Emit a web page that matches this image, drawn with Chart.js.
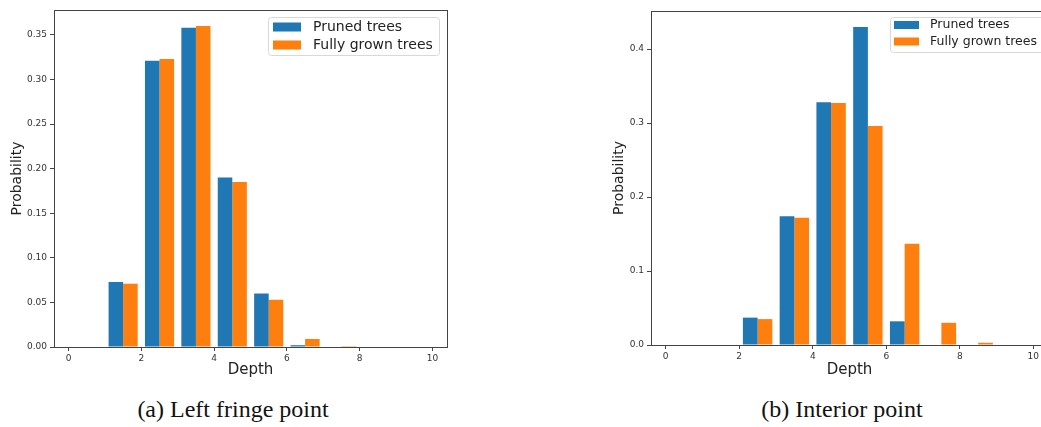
<!DOCTYPE html>
<html>
<head>
<meta charset="utf-8">
<script src="https://cdn.jsdelivr.net/npm/chart.js@4/dist/chart.umd.min.js"></script>
<style>
  html, body { margin: 0; padding: 0; background: #fff; width: 1041px; height: 427px; overflow: hidden; }
  .panel { position: absolute; top: 0; }
  .caption {
    position: absolute; top: 396px; width: 400px; text-align: center;
    font-family: "Liberation Serif", "DejaVu Serif", serif; font-size: 24px; color: #111;
  }
</style>
</head>
<body>
<div class="panel" style="left:0px"><canvas id="leftChart" width="460" height="390"></canvas></div>
<div class="panel" style="left:600px"><canvas id="rightChart" width="460" height="390"></canvas></div>
<div class="caption" style="left:33px">(a) Left fringe point</div>
<div class="caption" style="left:642px">(b) Interior point</div>

<script>
// bins de profundidad (inicio de cada bin de ancho 1)
const binStarts = [0, 1, 2, 3, 4, 5, 6, 7, 8, 9];
const seriesNames = ['Pruned trees', 'Fully grown trees'];

// (a) Left fringe point
const leftPruned = [0, 0.073, 0.321, 0.358, 0.190, 0.060, 0.002, 0, 0, 0];
const leftFull   = [0, 0.071, 0.323, 0.360, 0.185, 0.053, 0.009, 0.001, 0, 0];
const leftYTicks = [0, 0.05, 0.10, 0.15, 0.20, 0.25, 0.30, 0.35];

// (b) Interior point
const rightPruned = [0, 0, 0.037, 0.174, 0.328, 0.430, 0.032, 0, 0, 0];
const rightFull   = [0, 0, 0.035, 0.172, 0.327, 0.296, 0.137, 0.030, 0.003, 0];
const rightYTicks = [0, 0.1, 0.2, 0.3, 0.4];

const xTicks = [0, 2, 4, 6, 8, 10];

const BLUE = '#1f77b4';
const ORANGE = '#ff7f0e';
const AXIS = '#444';

// marco completo alrededor del area + leyenda dentro
const frameAndLegend = {
  id: 'frameAndLegend',
  afterDraw(chart, args, opts) {
    const ctx = chart.ctx;
    const a = chart.chartArea;
    ctx.save();
    ctx.strokeStyle = AXIS;
    ctx.lineWidth = 1;
    ctx.strokeRect(Math.round(a.left) + 0.5, Math.round(a.top) + 0.5,
                   Math.round(a.right - a.left), Math.round(a.bottom - a.top));

    // leyenda
    const L = opts;
    ctx.fillStyle = 'rgba(255,255,255,0.85)';
    ctx.strokeStyle = '#d8d8d8';
    ctx.beginPath();
    ctx.roundRect(L.x + 0.5, L.y + 0.5, L.w, L.h, 3);
    ctx.fill();
    ctx.stroke();
    ctx.font = L.fontSize + 'px "DejaVu Sans"';
    ctx.textBaseline = 'middle';
    chart.data.datasets.forEach((ds, i) => {
      const cy = L.y + L.firstRow + i * L.rowGap;
      ctx.fillStyle = ds.backgroundColor;
      ctx.fillRect(L.swatchX, cy - L.swatchH / 2, L.swatchW, L.swatchH);
      ctx.fillStyle = '#222';
      ctx.fillText(ds.label, L.textX, cy);
    });
    ctx.restore();
  }
};

function makeChart(id, pruned, full, yTicks, yMax, decimals, pad, yWidth, xHeight, legend) {
  const centers = binStarts.map(b => b + 0.5);
  return new Chart(document.getElementById(id), {
    type: 'bar',
    data: {
      datasets: [
        { label: seriesNames[0], data: centers.map((x, i) => ({ x: x, y: pruned[i] })), backgroundColor: BLUE },
        { label: seriesNames[1], data: centers.map((x, i) => ({ x: x, y: full[i] })), backgroundColor: ORANGE }
      ]
    },
    options: {
      responsive: false,
      animation: false,
      devicePixelRatio: 1,
      layout: { padding: pad },
      datasets: { bar: { categoryPercentage: 0.8, barPercentage: 1.0, borderWidth: 0 } },
      plugins: {
        legend: { display: false },
        tooltip: { enabled: false },
        frameAndLegend: legend
      },
      scales: {
        x: {
          type: 'linear',
          min: -0.4, max: 10.4,
          offset: false,
          afterBuildTicks: s => { s.ticks = xTicks.map(v => ({ value: v })); },
          afterFit: s => { s.height = xHeight; },
          grid: { display: true, offset: false, drawOnChartArea: false, drawTicks: true, tickLength: 4, color: AXIS },
          border: { display: true, color: AXIS },
          ticks: { padding: 2, color: '#333', font: { family: 'DejaVu Sans', size: 9 }, callback: v => String(v) },
          title: { display: true, text: 'Depth', color: '#222', font: { family: 'DejaVu Sans', size: 15 }, padding: { top: 0, bottom: 11 } }
        },
        y: {
          type: 'linear',
          min: 0, max: yMax,
          afterBuildTicks: s => { s.ticks = yTicks.map(v => ({ value: v })); },
          afterFit: s => { s.width = yWidth; },
          grid: { display: true, offset: false, drawOnChartArea: false, drawTicks: true, tickLength: 4, color: AXIS },
          border: { display: true, color: AXIS },
          ticks: { padding: 3, color: '#333', font: { family: 'DejaVu Sans', size: 9 }, callback: v => v.toFixed(decimals) },
          title: { display: true, text: 'Probability', color: '#222', font: { family: 'DejaVu Sans', size: 14 }, padding: { top: 3, bottom: 0 } }
        }
      }
    },
    plugins: [frameAndLegend]
  });
}

makeChart('leftChart', leftPruned, leftFull, leftYTicks, 0.378, 2,
  { top: 10, right: 13, left: 6, bottom: 0 }, 48, 43,
  { x: 268, y: 17, w: 171, h: 38, firstRow: 10, rowGap: 18, swatchX: 273, swatchW: 28, swatchH: 9, textX: 313, fontSize: 14 });

makeChart('rightChart', rightPruned, rightFull, rightYTicks, 0.4515, 1,
  { top: 11, right: 12, left: 8, bottom: 0 }, 43, 45,
  { x: 290, y: 17, w: 160, h: 35, firstRow: 8, rowGap: 16.5, swatchX: 294, swatchW: 25, swatchH: 8, textX: 330, fontSize: 12.5 });
</script>
</body>
</html>
